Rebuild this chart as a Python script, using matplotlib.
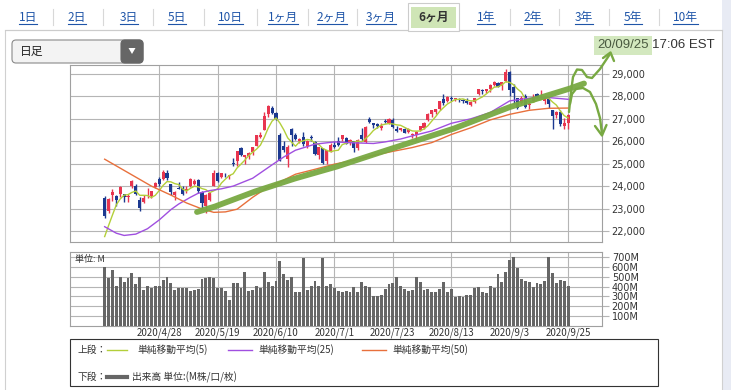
import numpy as np
import matplotlib
matplotlib.use("Agg")
import matplotlib.pyplot as plt
from matplotlib.patches import Rectangle, FancyBboxPatch, Polygon

plt.rcParams['font.family'] = ['Noto Sans CJK JP', 'DejaVu Sans']

# ---- data ----
days = ['4/7', '4/8', '4/9', '4/13', '4/14', '4/15', '4/16', '4/17', '4/20', '4/21',
        '4/22', '4/23', '4/24', '4/27', '4/28', '4/29', '4/30', '5/1', '5/4', '5/5',
        '5/6', '5/7', '5/8', '5/11', '5/12', '5/13', '5/14', '5/15', '5/18', '5/19',
        '5/20', '5/21', '5/22', '5/26', '5/27', '5/28', '5/29', '6/1', '6/2', '6/3',
        '6/4', '6/5', '6/8', '6/9', '6/10', '6/11', '6/12', '6/15', '6/16', '6/17',
        '6/18', '6/19', '6/22', '6/23', '6/24', '6/25', '6/26', '6/29', '6/30', '7/1',
        '7/2', '7/6', '7/7', '7/8', '7/9', '7/10', '7/13', '7/14', '7/15', '7/16',
        '7/17', '7/20', '7/21', '7/22', '7/23', '7/24', '7/27', '7/28', '7/29', '7/30',
        '7/31', '8/3', '8/4', '8/5', '8/6', '8/7', '8/10', '8/11', '8/12', '8/13',
        '8/14', '8/17', '8/18', '8/19', '8/20', '8/21', '8/24', '8/25', '8/26', '8/27',
        '8/28', '8/31', '9/1', '9/2', '9/3', '9/4', '9/8', '9/9', '9/10', '9/11',
        '9/14', '9/15', '9/16', '9/17', '9/18', '9/21', '9/22', '9/23', '9/24', '9/25']

opens = [23480, 22900, 23600, 23580, 23650, 23670, 23500, 24000, 24000, 23400,
         23300, 23500, 23550, 23950, 24300, 24300, 24600, 24100, 23600, 23900,
         23900, 23800, 24000, 24100, 24250, 23750, 23100, 23400, 24000, 24600,
         24400, 24500, 24450, 25000, 25100, 25700, 25300, 25350, 25500, 25800,
         26200, 26500, 27200, 27500, 27250, 26300, 25800, 25200, 26550, 26300,
         26000, 26200, 25800, 26200, 25950, 25400, 25700, 25100, 25550, 25850,
         26000, 26100, 26150, 25900, 26000, 25700, 26300, 25950, 27000, 26800,
         26750, 26600, 26900, 26800, 26950, 26550, 26500, 26550, 26400, 26300,
         26300, 26500, 26600, 26950, 27200, 27300, 27450, 27900, 27800, 27950,
         27880, 27900, 27850, 27800, 27600, 27750, 28100, 28300, 28250, 28350,
         28500, 28600, 28450, 28700, 29100, 28400, 27950, 27700, 28000, 27600,
         27800, 28100, 28000, 27800, 27900, 27400, 27150, 27300, 26700, 26800]

highs = [23550, 23460, 23850, 23600, 24000, 23670, 23650, 24264, 24080, 23500,
         23600, 23900, 23800, 24200, 24400, 24700, 24700, 24100, 23800, 24200,
         24000, 24000, 24350, 24300, 24300, 23800, 23650, 23700, 24700, 24650,
         24600, 24600, 24500, 25250, 25550, 25750, 25400, 25500, 25750, 26300,
         26400, 27300, 27600, 27550, 27300, 26350, 26000, 25850, 26600, 26350,
         26150, 26400, 26050, 26300, 26000, 25750, 25700, 25600, 25900, 26000,
         26200, 26300, 26200, 26100, 26000, 26100, 26600, 26700, 27100, 26800,
         26800, 26800, 27000, 27050, 27050, 26700, 26600, 26600, 26600, 26350,
         26450, 26700, 26850, 27250, 27400, 27450, 27800, 28100, 28000, 28000,
         27950, 27950, 27900, 27950, 27800, 27950, 28350, 28350, 28350, 28550,
         28700, 28650, 28650, 29200, 29150, 28550, 27950, 28000, 28100, 27800,
         28100, 28150, 28300, 28000, 27950, 27400, 27350, 27400, 27050, 27200]

lows = [22600, 22800, 23350, 23100, 23520, 23300, 23300, 23900, 23600, 22900,
        23250, 23450, 23450, 23900, 24000, 24250, 24250, 23600, 23400, 23850,
        23600, 23700, 23950, 24050, 23700, 23000, 22800, 23350, 24000, 24200,
        24350, 24400, 24300, 24900, 24900, 25350, 25000, 25200, 25400, 25800,
        26150, 26500, 27100, 27200, 26950, 25100, 25500, 24843, 25800, 26050,
        25900, 25800, 25700, 26000, 25400, 25200, 25000, 25000, 25500, 25700,
        25800, 26000, 25880, 25850, 25500, 25600, 26000, 25900, 26800, 26600,
        26600, 26500, 26800, 26750, 26600, 26400, 26450, 26350, 26350, 26150,
        26050, 26450, 26550, 26900, 27100, 27200, 27400, 27600, 27750, 27800,
        27800, 27750, 27700, 27650, 27550, 27700, 28050, 28100, 28150, 28200,
        28450, 28400, 28300, 28650, 28000, 27650, 27450, 27650, 27500, 27450,
        27750, 27950, 27950, 27650, 27500, 26550, 27050, 26700, 26550, 26550]

closes = [22653, 23433, 23719, 23390, 23949, 23504, 23538, 24242, 23650, 23018,
          23475, 23515, 23775, 24133, 24101, 24634, 24346, 23724, 23749, 23883,
          23664, 23875, 24331, 24221, 23764, 23248, 23625, 23685, 24597, 24206,
          24575, 24474, 24465, 24995, 25548, 25400, 25383, 25475, 25742, 26270,
          26281, 27111, 27572, 27272, 26990, 25128, 25606, 25763, 26290, 26120,
          26080, 25871, 26025, 26156, 25445, 25746, 25016, 25596, 25813, 25735,
          25827, 26287, 25890, 26067, 25706, 26075, 26086, 26643, 26870, 26735,
          26672, 26680, 26840, 27005, 26652, 26470, 26585, 26380, 26540, 26314,
          26428, 26664, 26828, 27201, 27387, 27433, 27791, 27687, 27977, 27897,
          27931, 27845, 27779, 27693, 27740, 27930, 28308, 28249, 28332, 28492,
          28654, 28430, 28646, 29100, 28293, 28133, 27501, 27940, 27535, 27666,
          27993, 27995, 28032, 27902, 27657, 27148, 27289, 26763, 26815, 27174]

# volume in millions
volumes = [605, 486, 571, 408, 503, 449, 486, 537, 428, 503,
           367, 408, 384, 408, 408, 469, 503, 435, 367, 384,
           384, 384, 350, 367, 374, 476, 493, 503, 486, 384,
           384, 357, 265, 435, 435, 384, 554, 350, 367, 408,
           384, 554, 442, 401, 459, 663, 530, 469, 503, 340,
           340, 690, 367, 408, 459, 401, 690, 401, 425, 384,
           357, 340, 357, 347, 394, 347, 442, 408, 391, 299,
           306, 316, 374, 428, 435, 503, 408, 374, 357, 367,
           503, 449, 360, 374, 340, 340, 374, 442, 347, 374,
           289, 299, 289, 316, 316, 384, 394, 347, 333, 408,
           384, 530, 442, 554, 673, 707, 588, 476, 459, 442,
           398, 432, 425, 452, 707, 537, 435, 469, 462, 408]

ma5 = [21750, 22240, 22710, 23170, 23430, 23600, 23620, 23720, 23780, 23590,
       23590, 23580, 23490, 23590, 23800, 24030, 24200, 24190, 24110, 24070,
       23870, 23780, 23900, 23990, 23970, 23890, 23840, 23710, 23790, 23880,
       24140, 24310, 24470, 24550, 24810, 24980, 25160, 25360, 25510, 25650,
       25830, 26180, 26590, 26900, 27040, 26810, 26510, 26150, 25960, 25780,
       25970, 26020, 26080, 26050, 25920, 25850, 25680, 25600, 25530, 25580,
       25600, 25850, 25910, 25960, 25960, 26010, 25970, 26120, 26280, 26480,
       26600, 26720, 26760, 26790, 26770, 26730, 26710, 26620, 26530, 26460,
       26450, 26460, 26550, 26690, 26900, 27100, 27330, 27500, 27660, 27760,
       27860, 27870, 27890, 27830, 27800, 27800, 27890, 27980, 28110, 28260,
       28410, 28430, 28510, 28660, 28620, 28520, 28330, 28190, 27880, 27760,
       27730, 27830, 27850, 27920, 27920, 27750, 27610, 27350, 27140, 27040]

ma25_days = ['4/7', '4/13', '4/15', '4/20', '4/23', '4/28', '5/1', '5/5', '5/8', '5/12',
             '5/15', '5/20', '5/26', '6/2', '6/9', '6/12', '6/17', '6/24', '7/1', '7/9',
             '7/16', '7/21', '7/27', '7/30', '8/6', '8/13', '8/20', '8/27', '9/3', '9/11',
             '9/18', '9/25']
ma25 = [22190, 21900, 21800, 21860, 22100, 22490, 22950, 23200, 23500, 23680,
        23800, 23880, 24000, 24350, 24950, 25300, 25600, 25870, 25970, 25930,
        25900, 25970, 26100, 26240, 26460, 26800, 27000, 27280, 27800, 27920,
        27950, 27870]

ma50_days = ['4/7', '4/16', '4/24', '5/1', '5/7', '5/13', '5/18', '5/21', '5/27', '6/2',
             '6/5', '6/10', '6/17', '6/24', '7/1', '7/9', '7/16', '7/23', '7/30', '8/6',
             '8/13', '8/20', '8/27', '9/3', '9/11', '9/18', '9/25']
ma50 = [25200, 24600, 24000, 23600, 23250, 22980, 22830, 22850, 22970, 23500,
        23850, 24100, 24530, 24750, 24980, 25150, 25370, 25550, 25720, 25940,
        26300, 26600, 26950, 27200, 27380, 27470, 27480]

date_labels = ['4/28', '5/19', '6/10', '7/1', '7/23', '8/13', '9/3', '9/25']
price_ticks = [22000, 23000, 24000, 25000, 26000, 27000, 28000, 29000]
vol_ticks = [100, 200, 300, 400, 500, 600, 700]

tabs = ['1日', '2日', '3日', '5日', '10日', '1ヶ月', '2ヶ月', '3ヶ月', '6ヶ月',
        '1年', '2年', '3年', '5年', '10年']
active_tab = '6ヶ月'

# ---- style ----
RED = '#e8354f'
BLUE = '#1c3990'
C5 = '#b3cf3a'
C25 = '#a04fe0'
C50 = '#e8703c'
GRID = '#b5b5b5'
GREEN = '#78a942'
LINK = '#1f55a8'

W, H = 731, 390
fig = plt.figure(figsize=(W / 100, H / 100), dpi=100)
fig.patch.set_facecolor('white')

# page layer, pixel coordinates
bg = fig.add_axes([0, 0, 1, 1], zorder=0)
bg.set_xlim(0, W)
bg.set_ylim(H, 0)
bg.axis('off')

x = np.arange(len(days))
tick_pos = [days.index(d) for d in date_labels]
xlim = (-8.9, 127.7)

# ---- price panel ----
ax = fig.add_axes([70 / W, 1 - 241.5 / H, 532 / W, 176.5 / H], zorder=2)
up = [c >= o for o, c in zip(opens, closes)]
cols = [RED if u else BLUE for u in up]
ax.vlines(x, lows, highs, colors=cols, lw=1.0, zorder=3)
bottoms = [min(o, c) for o, c in zip(opens, closes)]
heights = [max(abs(c - o), 30) for o, c in zip(opens, closes)]
ax.bar(x, heights, bottom=bottoms, width=0.8, color=cols, lw=0, zorder=4)
ax.plot(x, ma5, color=C5, lw=1.0, zorder=5)
ax.plot([days.index(d) for d in ma25_days], ma25, color=C25, lw=1.0, zorder=5)
ax.plot([days.index(d) for d in ma50_days], ma50, color=C50, lw=1.0, zorder=5)
ax.set_xlim(*xlim)
ax.set_ylim(21530, 29400)
ax.set_xticks(tick_pos)
ax.set_xticklabels([])
ax.set_yticks(price_ticks)
ax.set_yticklabels([f'{v:,}' for v in price_ticks], family='DejaVu Sans')
ax.yaxis.tick_right()
ax.tick_params(axis='y', length=5, width=0.8, color=GRID, labelsize=7, pad=2,
               labelcolor='#333333')
ax.tick_params(axis='x', length=0)
ax.grid(True, color=GRID, lw=0.8)
ax.set_axisbelow(True)
for s in ax.spines.values():
    s.set_color('#a0a0a0')
    s.set_linewidth(0.8)

# ---- volume panel ----
av = fig.add_axes([70 / W, 1 - 325.5 / H, 532 / W, 73.5 / H], zorder=2)
av.bar(x, volumes, width=0.74, color='#666666', lw=0, zorder=3)
av.set_xlim(*xlim)
av.set_ylim(0, 755)
av.set_xticks(tick_pos)
av.set_xticklabels(['2020/' + d for d in date_labels], fontsize=7, color='#333333')
av.set_yticks(vol_ticks)
av.set_yticklabels([f'{v}M' for v in vol_ticks], family='DejaVu Sans')
av.yaxis.tick_right()
av.tick_params(axis='y', length=5, width=0.8, color=GRID, labelsize=7, pad=2,
               labelcolor='#333333')
av.tick_params(axis='x', length=0, pad=1.5)
av.grid(True, color=GRID, lw=0.8)
av.set_axisbelow(True)
for s in av.spines.values():
    s.set_color('#a0a0a0')
    s.set_linewidth(0.8)
av.text(0.01, 0.9, '単位: M', transform=av.transAxes, fontsize=6.5,
        color='#333333', va='center', zorder=6)

# ---- page chrome ----
bg.add_patch(Rectangle((722, 0), 10, H, color='#e8ebf4', lw=0))
bg.add_patch(Rectangle((5, 30), 717, 370, fill=False, ec='#d0d0d0', lw=0.8))
tab_x = [28, 77, 129, 177, 230, 283, 332, 381, 434, 486, 533, 584, 633, 685]
bg.add_patch(Rectangle((408, 3), 51, 28, fc='white', ec='#cccccc', lw=0.8, zorder=2))
bg.add_patch(Rectangle((411, 7), 45, 21, fc='#cfe5b6', lw=0, zorder=2))
bg.plot([5, 408], [30, 30], color='#cccccc', lw=0.8)
bg.plot([459, 722], [30, 30], color='#cccccc', lw=0.8)
tab_texts = []
for i, (t, tx) in enumerate(zip(tabs, tab_x)):
    if t == active_tab:
        bg.text(tx, 17, t, fontsize=8.5, ha='center', va='center', color='#333333',
                fontweight='bold', zorder=3)
    else:
        tab_texts.append(bg.text(tx, 17, t, fontsize=8.5, ha='center', va='center',
                                 color=LINK, zorder=3))
    if i < len(tabs) - 1 and t != active_tab and tabs[i + 1] != active_tab:
        mx = (tx + tab_x[i + 1]) / 2
        bg.plot([mx, mx], [9, 25], color='#d8d8d8', lw=0.8)

# dropdown
bg.add_patch(FancyBboxPatch((12, 40), 131, 23, boxstyle='round,pad=0,rounding_size=4',
                            fc='#f3f3f3', ec='#8a8a8a', lw=0.8))
bg.add_patch(FancyBboxPatch((121, 40), 22, 23, boxstyle='round,pad=0,rounding_size=4',
                            fc='#666666', ec='#666666', lw=0.8))
bg.add_patch(Polygon([(128.5, 48), (135.5, 48), (132, 54)], closed=True, fc='white', lw=0))
bg.text(20, 51.5, '日足', fontsize=8.5, va='center', color='#222222')

# timestamp
ts_font = ['Liberation Sans', 'DejaVu Sans']
t_time = bg.text(715, 45.5, '17:06 EST', fontsize=9.5, ha='right', va='center',
                 color='#333333', family=ts_font)

# legend box
bg.add_patch(Rectangle((70, 339), 588, 47, fill=False, ec='#333333', lw=0.8))
ly1, ly2 = 350, 377
bg.text(77, ly1, '上段：', fontsize=7, va='center', color='#333333')
bg.plot([107, 127], [ly1, ly1], color=C5, lw=1)
bg.text(137, ly1, '単純移動平均(5)', fontsize=7, va='center', color='#333333')
bg.plot([228, 252], [ly1, ly1], color=C25, lw=1)
bg.text(258, ly1, '単純移動平均(25)', fontsize=7, va='center', color='#333333')
bg.plot([362, 386], [ly1, ly1], color=C50, lw=1)
bg.text(392, ly1, '単純移動平均(50)', fontsize=7, va='center', color='#333333')
bg.text(77, ly2, '下段：', fontsize=7, va='center', color='#333333')
bg.plot([107, 127], [ly2, ly2], color='#666666', lw=3)
bg.text(132, ly2, '出来高 単位:(M株/口/枚)', fontsize=7, va='center', color='#333333')

# underline links, place highlighted date left of the time
fig.canvas.draw()
r = fig.canvas.get_renderer()
for t in tab_texts:
    bb = t.get_window_extent(r)
    bg.plot([bb.x0, bb.x1], [H - bb.y0 + 0.5, H - bb.y0 + 0.5], color=LINK, lw=0.8)
tb = t_time.get_window_extent(r)
bg.text(tb.x0 - 4, 45.5, '20/09/25', fontsize=9.5, ha='right', va='center',
        color='#4a5a40', family=ts_font,
        bbox=dict(boxstyle='square,pad=0.25', fc='#d3e8bf', ec='none'))

# ---- hand-drawn green annotation (pixel coords) ----
fg = fig.add_axes([0, 0, 1, 1], zorder=10)
fg.set_xlim(0, W)
fg.set_ylim(H, 0)
fg.axis('off')
fg.patch.set_alpha(0)
trend = [(197, 212), (215, 206.5), (255, 191.5), (295, 178.5), (337, 166.5),
         (392, 148.5), (454, 128.5), (510, 107), (570, 88.5), (584, 83.5)]
fg.plot(*zip(*trend), color=GREEN, lw=4.2, solid_capstyle='round', alpha=0.95)
up_curve = [(569, 112), (571, 92), (573, 77), (577, 69.5), (582, 70), (587, 77),
            (592, 78), (600, 69), (610, 54)]
fg.plot(*zip(*up_curve), color=GREEN, lw=1.7, solid_capstyle='round')
fg.plot([603, 610.5, 614], [58, 52.5, 61], color=GREEN, lw=1.7, solid_capstyle='round')
down_curve = [(570, 104), (572, 94), (576, 89), (583, 88), (590, 92), (596, 104),
              (600, 118), (602, 134)]
fg.plot(*zip(*down_curve), color=GREEN, lw=1.7, solid_capstyle='round')
fg.plot([595, 602, 606.5], [126, 135.5, 125], color=GREEN, lw=1.7, solid_capstyle='round')

fig.savefig('out.png', dpi=100)
